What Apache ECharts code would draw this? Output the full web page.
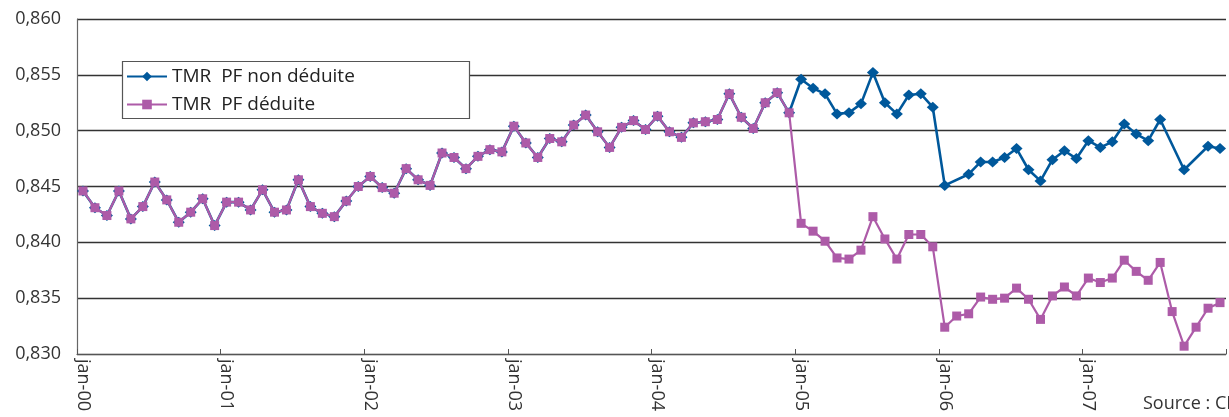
<!DOCTYPE html>
<html lang="fr">
<head>
<meta charset="utf-8">
<title>TMR PF</title>
<script src="https://cdn.jsdelivr.net/npm/echarts@6/dist/echarts.min.js"></script>
<style>
  html, body { margin: 0; padding: 0; background: #fff; }
  #chart { width: 1229px; height: 417px; }
</style>
</head>
<body>
<div id="chart"></div>
<script>
// Month abbreviations and years used to build the monthly category axis
const monthNames = ['jan', 'fév', 'mar', 'avr', 'mai', 'juin', 'juil', 'aoû', 'sep', 'oct', 'nov', 'déc'];
const years = ['00', '01', '02', '03', '04', '05', '06', '07'];

// Y axis ticks
const yMin = 0.830;
const yMax = 0.860;
const yStep = 0.005;

const seriesNames = ['TMR  PF non déduite', 'TMR  PF déduite'];

// Monthly values, jan-00 to déc-07 (null = no observation)
const tmrNonDeduite = [
  0.8446, 0.8431, 0.8424, 0.8446, 0.8421, 0.8432, 0.8454, 0.8438, 0.8418, 0.8427, 0.8439, 0.8415,
  0.8436, 0.8436, 0.8429, 0.8447, 0.8427, 0.8429, 0.8456, 0.8432, 0.8426, 0.8423, 0.8437, 0.8450,
  0.8459, 0.8449, 0.8444, 0.8466, 0.8456, 0.8451, 0.8480, 0.8476, 0.8466, 0.8477, 0.8483, 0.8481,
  0.8504, 0.8489, 0.8476, 0.8493, 0.8490, 0.8505, 0.8514, 0.8499, 0.8485, 0.8503, 0.8509, 0.8501,
  0.8513, 0.8499, 0.8494, 0.8507, 0.8508, 0.8510, 0.8533, 0.8512, 0.8502, 0.8525, 0.8534, 0.8516,
  0.8546, 0.8538, 0.8533, 0.8515, 0.8516, 0.8524, 0.8552, 0.8525, 0.8515, 0.8532, 0.8533, 0.8521,
  0.8451, null,   0.8461, 0.8472, 0.8472, 0.8476, 0.8484, 0.8465, 0.8455, 0.8474, 0.8482, 0.8475,
  0.8491, 0.8485, 0.8490, 0.8506, 0.8497, 0.8491, 0.8510, null,   0.8465, null,   0.8486, 0.8484
];

const tmrDeduite = [
  0.8446, 0.8431, 0.8424, 0.8446, 0.8421, 0.8432, 0.8454, 0.8438, 0.8418, 0.8427, 0.8439, 0.8415,
  0.8436, 0.8436, 0.8429, 0.8447, 0.8427, 0.8429, 0.8456, 0.8432, 0.8426, 0.8423, 0.8437, 0.8450,
  0.8459, 0.8449, 0.8444, 0.8466, 0.8456, 0.8451, 0.8480, 0.8476, 0.8466, 0.8477, 0.8483, 0.8481,
  0.8504, 0.8489, 0.8476, 0.8493, 0.8490, 0.8505, 0.8514, 0.8499, 0.8485, 0.8503, 0.8509, 0.8501,
  0.8513, 0.8499, 0.8494, 0.8507, 0.8508, 0.8510, 0.8533, 0.8512, 0.8502, 0.8525, 0.8534, 0.8516,
  0.8417, 0.8410, 0.8401, 0.8386, 0.8385, 0.8393, 0.8423, 0.8403, 0.8385, 0.8407, 0.8407, 0.8396,
  0.8324, 0.8334, 0.8336, 0.8351, 0.8349, 0.8350, 0.8359, 0.8349, 0.8331, 0.8352, 0.8360, 0.8352,
  0.8368, 0.8364, 0.8368, 0.8384, 0.8374, 0.8366, 0.8382, 0.8338, 0.8307, 0.8324, 0.8341, 0.8346
];

const sourceText = 'Source : CNAF';

const categories = [];
years.forEach(function (y) {
  monthNames.forEach(function (m) { categories.push(m + '-' + y); });
});

const FONT = '"Open Sans", "DejaVu Sans", sans-serif';
const BLUE = '#00589b';
const PINK = '#ad5ba8';

const chart = echarts.init(document.getElementById('chart'), null, { renderer: 'canvas' });

chart.setOption({
  animation: false,
  backgroundColor: '#ffffff',
  textStyle: { fontFamily: FONT },
  grid: { left: 77, right: 3, top: 19, bottom: 63, containLabel: false },
  xAxis: {
    type: 'category',
    data: categories,
    boundaryGap: true,
    axisLine: { show: true, lineStyle: { color: '#555', width: 1.2 } },
    axisTick: { show: true, interval: 11, inside: true, length: 5, lineStyle: { color: '#555' } },
    axisLabel: {
      interval: 11,
      rotate: -90,
      margin: 5,
      fontSize: 18,
      color: '#333',
      fontFamily: FONT
    },
    splitLine: { show: false }
  },
  yAxis: {
    type: 'value',
    min: yMin,
    max: yMax,
    interval: yStep,
    axisLine: { show: true, lineStyle: { color: '#666', width: 1.2 } },
    axisTick: { show: false },
    axisLabel: {
      margin: 16,
      fontSize: 18,
      color: '#333',
      fontFamily: FONT,
      formatter: function (v) { return v.toFixed(3).replace('.', ','); }
    },
    splitLine: { show: true, lineStyle: { color: '#333', width: 1.3 } }
  },
  legend: {
    orient: 'vertical',
    left: 126,
    top: 66,
    padding: 0,
    itemWidth: 40,
    itemHeight: 12,
    itemGap: 7,
    z: 6,
    textStyle: { fontSize: 19, lineHeight: 21, color: '#222', fontFamily: FONT },
    data: seriesNames
  },
  graphic: [
    {
      type: 'rect',
      z: 5,
      shape: { x: 122.5, y: 61.5, width: 347, height: 57 },
      style: { fill: '#ffffff', stroke: '#555', lineWidth: 1.2 }
    },
    {
      type: 'text',
      z: 5,
      left: 1143,
      top: 395,
      style: { text: sourceText, fontSize: 18, fill: '#333', fontFamily: FONT }
    }
  ],
  series: [
    {
      name: seriesNames[0],
      type: 'line',
      data: tmrNonDeduite,
      connectNulls: true,
      symbol: 'diamond',
      symbolSize: [12, 11],
      showAllSymbol: true,
      z: 2,
      lineStyle: { color: BLUE, width: 2.6 },
      itemStyle: { color: BLUE, borderWidth: 0 }
    },
    {
      name: seriesNames[1],
      type: 'line',
      data: tmrDeduite,
      symbol: 'rect',
      symbolSize: 9,
      showAllSymbol: true,
      z: 3,
      lineStyle: { color: PINK, width: 2.2 },
      itemStyle: { color: PINK, borderWidth: 0 }
    }
  ]
});
</script>
</body>
</html>
